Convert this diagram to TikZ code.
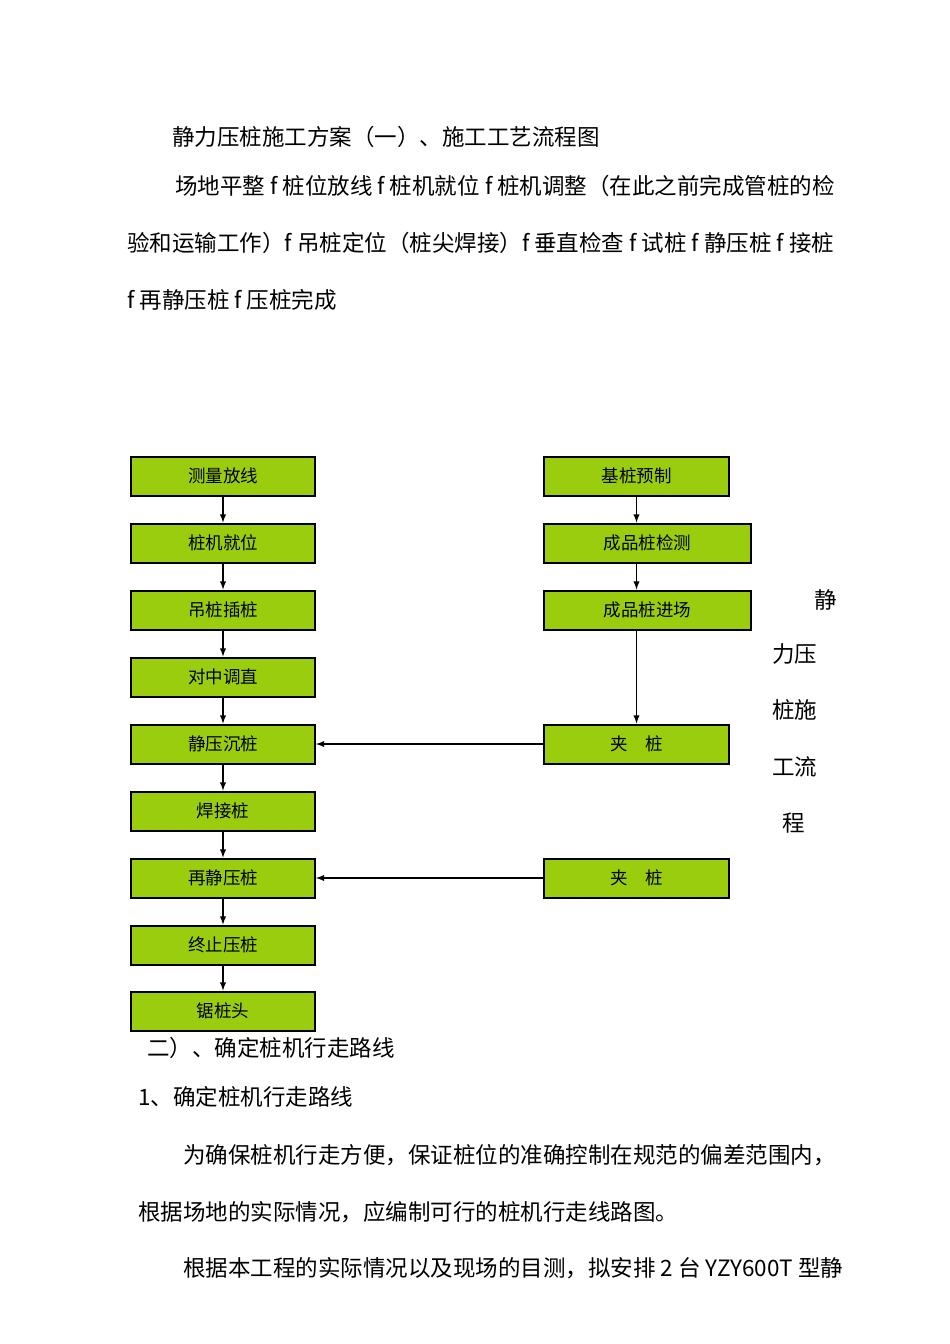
\documentclass[tikz,border=0pt]{standalone}
\usepackage{fontspec}
\setmainfont{Noto Sans CJK SC}
\begin{document}
\begin{tikzpicture}[x=1pt,y=-1pt,
 box/.style={draw=black,line width=2pt,fill={rgb,255:red,154;green,205;blue,14},minimum height=39pt,inner sep=0pt,font=\fontsize{17.5}{18}\selectfont},
 txt/.style={anchor=west,inner sep=0pt,font=\fontsize{22.5}{24}\selectfont},
 arr/.style={-latex,line width=1.8pt}]
\useasboundingbox (0,0) rectangle (950,1344);
\node[txt] (t1) at (172,137) {静力压桩施工方案（一）、施工工艺流程图};
\node[txt] (t2) at (175,186) {场地平整 f 桩位放线 f 桩机就位 f 桩机调整（在此之前完成管桩的检};
\node[txt] (t3) at (127,243) {验和运输工作）f 吊桩定位（桩尖焊接）f 垂直检查 f 试桩 f 静压桩 f 接桩};
\node[txt] (t4) at (127,300) {f 再静压桩 f 压桩完成};
\foreach \n/\y/\t in {a/476/测量放线,b/543/桩机就位,c/610/吊桩插桩,d/677/对中调直,e/744/静压沉桩,f/811/焊接桩,g/878/再静压桩,h/945/终止压桩,i/1011/锯桩头}
  \node[box,minimum width=184pt] (\n) at (223,\y) {\raisebox{-4pt}{\t}};
\node[box,minimum width=185pt] (r1) at (636.5,476) {\raisebox{-4pt}{基桩预制}};
\node[box,minimum width=207pt] (r2) at (647.5,543) {\raisebox{-4pt}{成品桩检测}};
\node[box,minimum width=207pt] (r3) at (647.5,610) {\raisebox{-4pt}{成品桩进场}};
\node[box,minimum width=185pt] (r4) at (636.5,744) {\raisebox{-4pt}{夹\quad 桩}};
\node[box,minimum width=185pt] (r5) at (636.5,878) {\raisebox{-4pt}{夹\quad 桩}};
\foreach \p/\q in {a/b,b/c,c/d,d/e,e/f,f/g,g/h,h/i} \draw[arr] (\p) -- (\q);
\draw[arr] (r1) -- (r1|-r2.north);
\draw[arr] (r1|-r2.south) -- (r1|-r3.north);
\draw[arr] (r1|-r3.south) -- (r4);
\draw[arr] (r4) -- (e);
\draw[arr] (r5) -- (g);
\node[txt] (v1) at (814,600) {静};
\node[txt] (v2) at (772,654) {力压};
\node[txt] (v3) at (772,710) {桩施};
\node[txt] (v4) at (772,767) {工流};
\node[txt] (v5) at (782,823) {程};
\node[txt] (b1) at (147,1048) {二）、确定桩机行走路线};
\node[txt] (b2) at (138,1097) {1、确定桩机行走路线};
\node[txt] (b3) at (183,1155) {为确保桩机行走方便，保证桩位的准确控制在规范的偏差范围内，};
\node[txt] (b4) at (138,1212) {根据场地的实际情况，应编制可行的桩机行走线路图。};
\node[txt] (b5) at (183,1268) {根据本工程的实际情况以及现场的目测，拟安排 2 台 YZY600T 型静};
\end{tikzpicture}
\end{document}
